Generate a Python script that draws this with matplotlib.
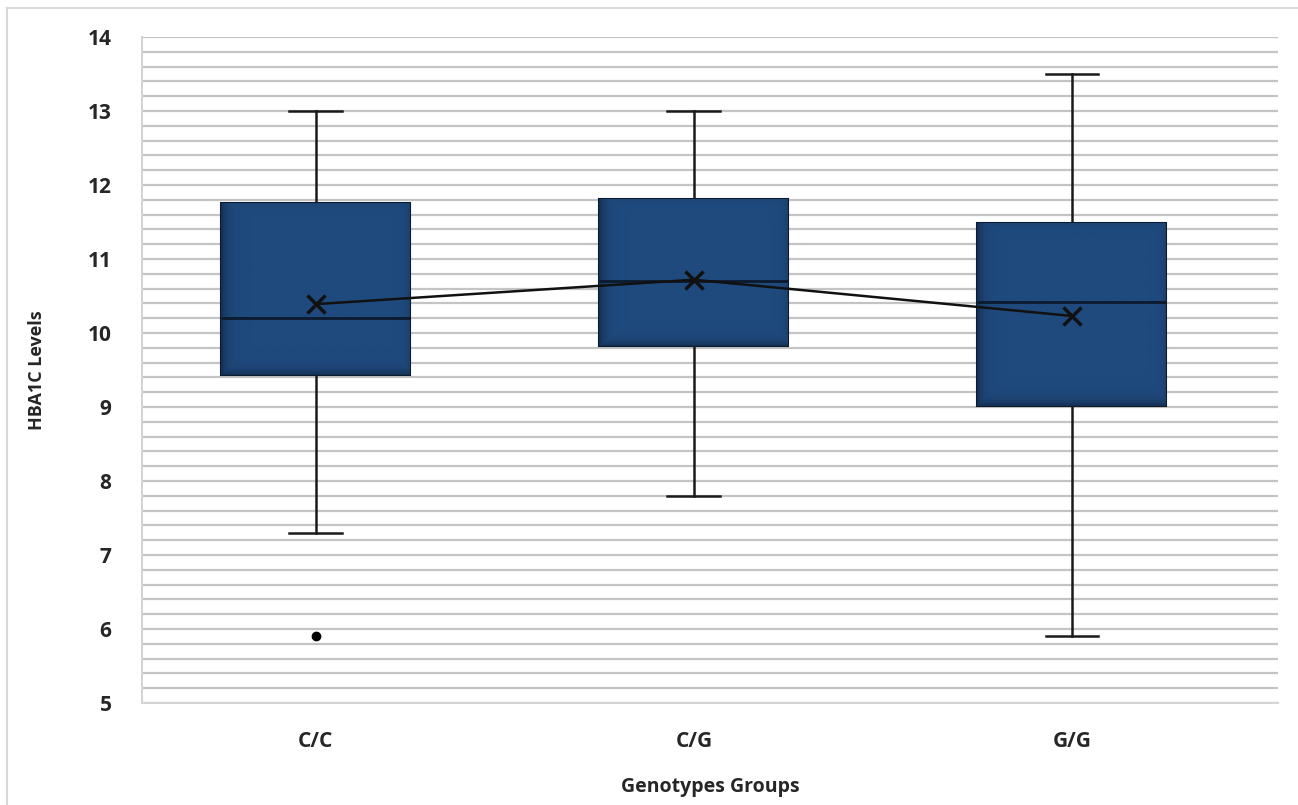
import numpy as np
import matplotlib
matplotlib.use('Agg')
import matplotlib.pyplot as plt
from matplotlib.lines import Line2D

# Box plot summary values
groups = ['C/C', 'C/G', 'G/G']
whisker_low = [7.3, 7.8, 5.9]
q1 = [9.43, 9.82, 9.01]
median = [10.2, 10.7, 10.42]
q3 = [11.76, 11.81, 11.49]
whisker_high = [13.0, 13.0, 13.5]
means = [10.39, 10.72, 10.23]
outliers = [[5.9], [], []]

plt.rcParams['font.family'] = ['Open Sans', 'DejaVu Sans']

fig = plt.figure(figsize=(12.98, 8.05), dpi=100)
ax = fig.add_axes([142 / 1298, 1 - 703 / 805, 1136 / 1298, 666 / 805])

positions = np.arange(1, len(groups) + 1)

stats = []
for i, g in enumerate(groups):
    stats.append(dict(label=g, whislo=whisker_low[i], q1=q1[i], med=median[i],
                      q3=q3[i], whishi=whisker_high[i], fliers=outliers[i]))

bp = ax.bxp(stats, positions=positions, widths=0.5, patch_artist=True,
            showfliers=True,
            boxprops=dict(facecolor='#1f4a7e', edgecolor='#0c1a2e', linewidth=1.5),
            medianprops=dict(color='#0c1a2e', linewidth=2),
            whiskerprops=dict(color='#1a1a1a', linewidth=1.8),
            capprops=dict(color='#1a1a1a', linewidth=1.8),
            flierprops=dict(marker='o', markerfacecolor='black', markeredgecolor='black',
                            markersize=6))
for cap in bp['caps']:
    c = cap.get_xdata().mean()
    cap.set_xdata([c - 0.07, c + 0.07])

# soft shading inside boxes (darker near left edge and bottom)
xs = np.linspace(0, 1, 200)
hshade = 1 - 0.6 * np.exp(-xs / 0.03) - 0.3 * np.exp(-(1 - xs) / 0.02)
ys = np.linspace(0, 1, 200)
vshade = 1 - 0.6 * np.exp(-ys / 0.03) - 0.2 * np.exp(-(1 - ys) / 0.02)
grad = np.minimum(hshade[None, :], vshade[:, None])
cmap = matplotlib.colors.LinearSegmentedColormap.from_list('box', ['#0c1d36', '#1f4a7e'])
for i, box in enumerate(bp['boxes']):
    im = ax.imshow(grad, cmap=cmap, vmin=0, vmax=1, aspect='auto', origin='lower',
                   extent=[positions[i] - 0.25, positions[i] + 0.25, q1[i], q3[i]],
                   zorder=box.get_zorder() + 0.1, interpolation='bilinear')
    im.set_clip_path(box)
for med in bp['medians']:
    med.set_zorder(5)

# mean line and markers
ax.plot(positions, means, color='#111111', linewidth=1.8, zorder=6)
ax.plot(positions, means, linestyle='none', marker='x', color='#111111',
        markersize=13, markeredgewidth=2.5, zorder=7)

# axes, grid lines every 0.2
ax.set_ylim(5, 14)
ax.set_xlim(0.54, 3.545)
ax.set_yticks(np.arange(5, 15, 1))
ax.set_yticks(np.arange(5, 14.01, 0.2), minor=True)
ax.set_yticklabels([str(v) for v in range(5, 15)], fontweight='bold', color='#262626')
ax.set_xticks(positions)
ax.set_xticklabels(groups, fontweight='bold', color='#262626')
ax.grid(axis='y', which='both', color='#c4c4c4', linewidth=1.6)
ax.set_axisbelow(True)
ax.tick_params(axis='y', which='both', length=0, pad=22, labelsize=15)
ax.tick_params(axis='x', length=0, pad=20, labelsize=15)

for side in ['top', 'right']:
    ax.spines[side].set_visible(False)
ax.spines['left'].set_color('#d4d4d4')
ax.spines['bottom'].set_color('#d4d4d4')
ax.spines['left'].set_linewidth(1.5)
ax.spines['bottom'].set_linewidth(1.5)

ax.set_xlabel('Genotypes Groups', fontsize=14, fontweight='bold', color='#262626', labelpad=18)
ax.set_ylabel('HBA1C Levels', fontsize=13, fontweight='bold', color='#262626', labelpad=30)

# outer frame (top and left)
fig.add_artist(Line2D([7 / 1298, 7 / 1298], [0, 1 - 8 / 805], color='#d9d9d9', linewidth=1.5))
fig.add_artist(Line2D([7 / 1298, 1], [1 - 8 / 805, 1 - 8 / 805], color='#d9d9d9', linewidth=1.5))

fig.savefig('out.png', dpi=100, facecolor='white')
